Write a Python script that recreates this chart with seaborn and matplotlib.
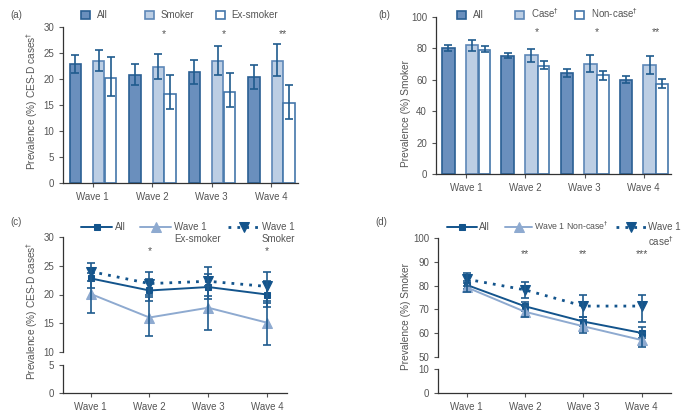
import numpy as np
import matplotlib.pyplot as plt
import seaborn as sns

waves = ["Wave 1", "Wave 2", "Wave 3", "Wave 4"]

# (a) CES-D cases by smoking status (%), with 95% CI
a_all = [22.9, 20.8, 21.4, 20.3]
a_all_lo = [21.1, 18.9, 19.1, 18.1]
a_all_hi = [24.6, 22.9, 23.7, 22.7]
a_smk = [23.5, 22.4, 23.5, 23.5]
a_smk_lo = [21.5, 20.0, 20.8, 20.6]
a_smk_hi = [25.5, 24.8, 26.3, 26.8]
a_ex = [20.2, 17.1, 17.5, 15.4]
a_ex_lo = [16.8, 14.2, 14.6, 12.4]
a_ex_hi = [24.2, 20.8, 21.2, 18.9]
a_stars = ["", "*", "*", "**"]

# (b) smokers by CES-D case status (%)
b_all = [80.2, 75.3, 64.3, 60.0]
b_all_lo = [78.1, 73.6, 61.5, 57.9]
b_all_hi = [81.9, 77.0, 67.0, 62.5]
b_case = [81.9, 75.7, 70.0, 69.4]
b_case_lo = [78.5, 71.3, 65.1, 63.8]
b_case_hi = [85.3, 79.8, 75.5, 74.9]
b_non = [79.1, 69.1, 62.8, 57.2]
b_non_lo = [77.4, 66.8, 59.8, 54.7]
b_non_hi = [81.3, 72.1, 65.5, 60.4]
b_stars = ["", "*", "*", "**"]

# (c) CES-D cases by wave 1 smoking status
c_all = [22.8, 20.7, 21.3, 20.0]
c_all_lo = [21.1, 18.9, 19.2, 17.9]
c_all_hi = [24.6, 22.7, 23.6, 22.3]
c_ex = [20.1, 16.0, 17.7, 15.1]
c_ex_lo = [16.8, 12.7, 13.9, 11.2]
c_ex_hi = [23.8, 19.6, 21.4, 18.9]
c_smk = [24.0, 21.9, 22.3, 21.4]
c_smk_lo = [22.4, 20.0, 19.8, 18.6]
c_smk_hi = [25.5, 23.9, 24.7, 24.0]
c_stars = ["", "*", "", "*"]

# (d) smokers by wave 1 case status
d_all = [80.3, 71.3, 64.9, 60.1]
d_all_lo = [78.5, 69.3, 62.9, 58.0]
d_all_hi = [82.0, 73.3, 67.0, 62.5]
d_non = [79.3, 69.0, 62.9, 57.1]
d_non_lo = [77.5, 66.8, 60.2, 54.3]
d_non_hi = [81.0, 71.3, 65.5, 60.0]
d_case = [82.7, 78.2, 71.4, 71.4]
d_case_lo = [79.8, 74.7, 66.8, 64.8]
d_case_hi = [85.5, 81.7, 75.9, 76.2]
d_stars = ["", "**", "**", "***"]

sns.set_style("ticks")
plt.rcParams["font.family"] = ["Liberation Sans", "DejaVu Sans"]
plt.rcParams["font.size"] = 7
txt = "#555555"
for k in ["text.color", "axes.labelcolor", "xtick.color", "ytick.color"]:
    plt.rcParams[k] = txt
plt.rcParams["axes.edgecolor"] = "#333333"
plt.rcParams["axes.linewidth"] = 0.9
plt.rcParams["xtick.major.size"] = 3
plt.rcParams["ytick.major.size"] = 3

navy = "#13548c"
light = "#8eaad0"
err_c = "#1f5b8e"
x = np.arange(4)
LFS = 7.0  # legend font size

fig = plt.figure(figsize=(6.92, 4.2), dpi=100)


def px(l, t, r, b):
    # axes box from pixel edges of the 692x420 canvas
    return [l / 692, 1 - b / 420, (r - l) / 692, (b - t) / 420]


def bars(ax, off, vals, lo, hi, fill, edge, label, w=0.19):
    vals, lo, hi = np.array(vals), np.array(lo), np.array(hi)
    pos = x + off
    sns.barplot(x=pos, y=vals, native_scale=True, width=w, color=fill,
                edgecolor=edge, linewidth=1.2, saturation=1, label=label, ax=ax)
    ax.errorbar(pos, vals, yerr=[vals - lo, hi - vals], fmt="none",
                ecolor=err_c, elinewidth=1.2, capsize=3, capthick=1.2)


def lines(ax, vals, lo, hi, color, marker, ms, ls, label):
    vals, lo, hi = np.array(vals), np.array(lo), np.array(hi)
    sns.lineplot(x=x, y=vals, color=color, marker=marker, markersize=ms,
                 markeredgecolor=color, linewidth=1.4 if ls == "-" else 2.0,
                 linestyle=ls, label=label, ax=ax, legend=False)
    ax.errorbar(x, vals, yerr=[vals - lo, hi - vals], fmt="none",
                ecolor=err_c, elinewidth=1.2, capsize=3, capthick=1.2)


def finish_x(ax, lo, hi):
    ax.set_xlim(lo, hi)
    ax.set_xticks(x)
    ax.set_xticklabels(waves)
    ax.set_xlabel("")
    ax.set_ylabel("")


def legend_row(ax, xs, y, sizes=None, **kw):
    # one small legend per entry so each sits where the reference has it
    handles, labels = ax.get_legend_handles_labels()
    sizes = sizes or [LFS] * len(xs)
    out = []
    for k, (h, l, xp, fs) in enumerate(zip(handles, labels, xs, sizes)):
        lg = ax.legend([h], [l], loc="lower left", bbox_to_anchor=(xp / 692, 1 - y / 420),
                       bbox_transform=fig.transFigure, frameon=False,
                       borderaxespad=0, borderpad=0, fontsize=fs, **kw)
        if k < len(xs) - 1:
            ax.add_artist(lg)
        out.append(lg)
    return out


second_lines = []  # (legend, text under its first line)

# ---- (a)
ax = fig.add_axes(px(63, 27, 298, 183))
bars(ax, -0.29, a_all, a_all_lo, a_all_hi, "#6a8fbd", "#2a5f93", "All")
bars(ax, 0.10, a_smk, a_smk_lo, a_smk_hi, "#bccee4", "#5e88b8", "Smoker")
bars(ax, 0.30, a_ex, a_ex_lo, a_ex_hi, "white", "#4477aa", "Ex-smoker")
finish_x(ax, -0.5, 3.45)
ax.set_ylim(0, 30)
ax.set_yticks(range(0, 31, 5))
for i, s in enumerate(a_stars):
    ax.text(i + 0.2, 28.6, s, ha="center", va="center", fontsize=7.5)
legend_row(ax, [81, 145, 216], 20, handlelength=0.9, handleheight=0.9, handletextpad=0.7)
sns.despine(ax=ax)

# ---- (b)
ax = fig.add_axes(px(436, 17, 671, 174))
bars(ax, -0.30, b_all, b_all_lo, b_all_hi, "#6a8fbd", "#2a5f93", "All", w=0.21)
bars(ax, 0.10, b_case, b_case_lo, b_case_hi, "#bccee4", "#5e88b8", "Case$^{\\dagger}$", w=0.21)
bars(ax, 0.31, b_non, b_non_lo, b_non_hi, "white", "#4477aa", "Non-case$^{\\dagger}$", w=0.19)
finish_x(ax, -0.51, 3.46)
ax.set_ylim(0, 100)
ax.set_yticks(range(0, 101, 20))
for i, s in enumerate(b_stars):
    ax.text(i + 0.2, 90.5, s, ha="center", va="center", fontsize=7.5)
legend_row(ax, [457, 515, 575], 20, handlelength=0.9, handleheight=0.9, handletextpad=0.7)
sns.despine(ax=ax)

# ---- (c) broken y axis
ax = fig.add_axes(px(63, 237, 287, 352))
axb = fig.add_axes(px(63, 365, 287, 393))
lines(ax, c_all, c_all_lo, c_all_hi, navy, "s", 5, "-", "All")
lines(ax, c_ex, c_ex_lo, c_ex_hi, light, "^", 7.5, "-", "Wave 1")
lines(ax, c_smk, c_smk_lo, c_smk_hi, navy, "v", 7.5, (0, (1, 2.2)), "Wave 1")
for a in (ax, axb):
    finish_x(a, -0.47, 3.34)
ax.set_ylim(10, 30)
ax.set_yticks(range(10, 31, 5))
axb.set_ylim(0, 5)
axb.set_yticks([0, 5])
ax.tick_params(axis="x", bottom=False, labelbottom=False)
sns.despine(ax=ax, bottom=True)
sns.despine(ax=axb)
for i, s in enumerate(c_stars):
    ax.text(i, 27.6, s, ha="center", va="center", fontsize=7.5)
lgs = legend_row(ax, [81, 140, 228], 232, handlelength=3.2, handletextpad=0.3)
second_lines += [(lgs[1], "Ex-smoker"), (lgs[2], "Smoker")]

# ---- (d) broken y axis
ax = fig.add_axes(px(438, 238, 671, 357))
axb = fig.add_axes(px(438, 369, 671, 393))
lines(ax, d_all, d_all_lo, d_all_hi, navy, "s", 5, "-", "All")
lines(ax, d_non, d_non_lo, d_non_hi, light, "^", 7.5, "-", "Wave 1 Non-case$^{\\dagger}$")
lines(ax, d_case, d_case_lo, d_case_hi, navy, "v", 7.5, (0, (1, 2.2)), "Wave 1")
for a in (ax, axb):
    finish_x(a, -0.49, 3.5)
ax.set_ylim(50, 100)
ax.set_yticks(range(50, 101, 10))
axb.set_ylim(0, 10)
axb.set_yticks([0, 10])
ax.tick_params(axis="x", bottom=False, labelbottom=False)
sns.despine(ax=ax, bottom=True)
sns.despine(ax=axb)
for i, s in enumerate(d_stars):
    ax.text(i, 93.3, s, ha="center", va="center", fontsize=7.5)
lgs = legend_row(ax, [447, 505, 616], 232, sizes=[LFS, 6.3, LFS],
                 handlelength=3.1, handletextpad=0.2)
second_lines += [(lgs[2], "case$^{\\dagger}$")]

# second lines of the two-line legend labels, under the first line
fig.canvas.draw()
rend = fig.canvas.get_renderer()
inv = fig.transFigure.inverted()
for lg, s in second_lines:
    bb = lg.get_texts()[0].get_window_extent(rend)
    x0, y0 = inv.transform((bb.x0, bb.y0))
    fig.text(x0, y0 - 2 / 420, s, ha="left", va="top", fontsize=LFS)

# y labels and panel letters
ylab_c = "Prevalence (%) CES-D cases$^{\\dagger}$"
fig.text(32 / 692, 1 - 101 / 420, ylab_c, rotation=90, ha="center", va="center", fontsize=7.3)
fig.text(406 / 692, 1 - 114 / 420, "Prevalence (%) Smoker", rotation=90, ha="center", va="center", fontsize=7.3)
fig.text(32 / 692, 1 - 311 / 420, ylab_c, rotation=90, ha="center", va="center", fontsize=7.3)
fig.text(406 / 692, 1 - 316 / 420, "Prevalence (%) Smoker", rotation=90, ha="center", va="center", fontsize=7.3)
for lab, lx, ly in [("(a)", 10, 15), ("(b)", 378, 15), ("(c)", 10, 222), ("(d)", 375, 222)]:
    fig.text(lx / 692, 1 - ly / 420, lab, ha="left", va="center", fontsize=7)

fig.savefig("out.png", dpi=100)
